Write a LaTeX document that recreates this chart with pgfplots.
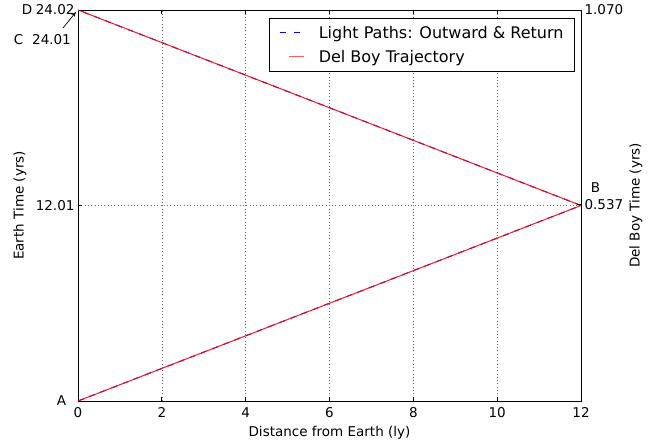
\documentclass[border=0pt]{standalone}
\usepackage{fontspec}
\setmainfont{DejaVu Sans}
\usepackage{pgfplots}
\pgfplotsset{compat=1.18}
\usetikzlibrary{arrows.meta}

\newcommand{\tickfont}{\fontsize{13.5}{16}\selectfont}

\begin{document}
\begin{tikzpicture}
\begin{axis}[
  scale only axis, width=503pt, height=391pt,
  xmin=0, xmax=12, ymin=0, ymax=24.02,
  xtick={0,2,...,12},
  ytick={0,12.01,24.02}, yticklabels={,12.01,24.02},
  tick align=inside, major tick length=4.4pt,
  xtick pos=both, ytick pos=left,
  grid=major,
  grid style={black!60, line width=0.6pt, dash pattern=on 1pt off 2.3pt},
  axis line style={black, line width=0.9pt},
  tick style={black, line width=0.8pt},
  ticklabel style={font=\tickfont},
  xticklabel style={yshift=-3pt},
  /pgf/number format/assume math mode=true,
  label style={font=\tickfont},
  xlabel={Distance from Earth (ly)},
  ylabel={Earth Time (yrs)},
  xlabel style={at={(axis description cs:0.5,0)}, anchor=center, yshift=-32pt},
  ylabel style={at={(axis description cs:-0.1153,0.5)}, anchor=center, rotate=0},
  legend style={at={(rel axis cs:0.988,0.9795)}, anchor=north east,
    line width=0.9pt,
    font=\fontsize{16}{19}\selectfont,
    inner xsep=10pt, inner ysep=7pt, row sep=8pt, column sep=14pt,
    nodes={inner sep=1pt}},
  legend cell align=left,
]
\addplot[color=blue, line width=1pt, dash pattern=on 6pt off 6pt, forget plot] coordinates {
  (0,0) (12,12.01) (0,24.02)
};
\addplot[color=red, draw opacity=0.9, line width=1pt, forget plot] coordinates {
  (0,0) (12,12.01) (0,24.02)
};
\addlegendimage{legend image code/.code={
  \node[anchor=west, inner sep=0pt] at (0pt,0pt)
    {\color{blue}\rule[-0.6pt]{6pt}{1.2pt}\hspace{8pt}\rule[-0.6pt]{6pt}{1.2pt}\hspace{2pt}};}}
\addlegendentry{Light Paths: Outward \& Return}
\addlegendimage{legend image code/.code={
  \node[anchor=west, inner sep=0pt] at (0pt,0pt)
    {\hspace{9pt}\color{red!65}\rule[-0.7pt]{15pt}{1.4pt}};}}
\addlegendentry{Del Boy Trajectory}
\end{axis}

\begin{axis}[
  scale only axis, width=503pt, height=391pt,
  xmin=0, xmax=12, ymin=0, ymax=1.070,
  axis y line*=right, hide x axis,
  ytick={0.537,1.070}, yticklabels={0.537,1.070},
  tick align=inside, major tick length=4.4pt,
  axis line style={black, line width=0.9pt},
  tick style={black, line width=0.8pt},
  ticklabel style={font=\tickfont},
  label style={font=\tickfont},
  ylabel={Del Boy Time (yrs)},
  ylabel style={at={(axis description cs:1.1093,0.5)}, anchor=center, rotate=0},
]
\end{axis}

% annotations
\node[font=\tickfont] at (-51pt,391pt) {D};
\node[font=\tickfont] at (-59.5pt,361pt) {C};
\node[font=\tickfont] at (-26.5pt,361pt) {24.01};
\draw[black, line width=0.7pt, -{Stealth[length=5pt,width=4pt]}] (-15pt,373pt) -- (-2pt,389pt);
\node[font=\tickfont] at (-16.5pt,0pt) {A};
\node[font=\tickfont] at (517.5pt,213pt) {B};

\pgfresetboundingbox
\path[use as bounding box] (-78pt,-45pt) rectangle (577pt,401pt);
\end{tikzpicture}
\end{document}
